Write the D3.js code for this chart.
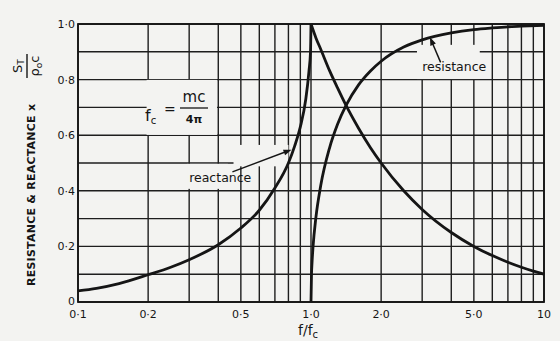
<!DOCTYPE html>
<html>
<head>
<meta charset="utf-8">
<script src="https://cdn.jsdelivr.net/npm/d3@7"></script>
<style>
  html, body { margin: 0; padding: 0; background: #f3f3f1; }
  svg { display: block; }
  text { font-family: "DejaVu Sans", sans-serif; fill: #151515; }
</style>
</head>
<body>
<svg id="chart" width="560" height="341"></svg>
<script>
// Frequency ratio f/fc and normalised impedance (× S_T / ρ0 c)
const reactanceBelowFreq = [0.1, 0.12, 0.15, 0.2, 0.25, 0.3, 0.4, 0.5, 0.6, 0.7, 0.8, 0.85, 0.9, 0.95, 0.98, 0.995, 1.0];
const reactanceBelowVal  = [0.04, 0.049, 0.066, 0.098, 0.125, 0.152, 0.206, 0.266, 0.33, 0.41, 0.5, 0.56, 0.63, 0.73, 0.83, 0.9, 1.0];

const reactanceAboveFreq = [1.0, 1.05, 1.1, 1.2, 1.3, 1.414, 1.6, 1.8, 2, 2.5, 3, 4, 5, 6, 7, 8, 9, 10];
const reactanceAboveVal  = [1.0, 0.95, 0.91, 0.833, 0.77, 0.707, 0.625, 0.555, 0.5, 0.4, 0.333, 0.25, 0.2, 0.167, 0.143, 0.125, 0.111, 0.1];

const resistanceFreq = [1.0, 1.005, 1.01, 1.02, 1.05, 1.1, 1.2, 1.3, 1.414, 1.6, 1.8, 2, 2.5, 3, 4, 5, 6, 7, 8, 10];
const resistanceVal  = [0, 0.1, 0.14, 0.197, 0.305, 0.417, 0.553, 0.639, 0.707, 0.781, 0.831, 0.866, 0.917, 0.943, 0.968, 0.98, 0.986, 0.99, 0.992, 0.995];

// Grid and tick labels
const xGridValues = [0.1, 0.2, 0.3, 0.4, 0.5, 0.6, 0.7, 0.8, 0.9, 1, 2, 3, 4, 5, 6, 7, 8, 9, 10];
const yGridValues = [0, 0.1, 0.2, 0.3, 0.4, 0.5, 0.6, 0.7, 0.8, 0.9, 1.0];
const xTickValues = [0.1, 0.2, 0.5, 1, 2, 5, 10];
const xTickLabels = ["0·1", "0·2", "0·5", "1·0", "2·0", "5·0", "10"];
const yTickValues = [0, 0.2, 0.4, 0.6, 0.8, 1.0];
const yTickLabels = ["0", "0·2", "0·4", "0·6", "0·8", "1·0"];

const svg = d3.select("#chart");
const bg = "#f3f3f1";
const ink = "#151515";

const x = d3.scaleLog().domain([0.1, 10]).range([78, 544]);
const y = d3.scaleLinear().domain([0, 1]).range([302, 24]);

// grid
const grid = svg.append("g").attr("stroke", "#1e1e1e").attr("stroke-width", 1.4);
grid.selectAll("line.v").data(xGridValues).join("line")
  .attr("x1", d => x(d)).attr("x2", d => x(d))
  .attr("y1", y(0)).attr("y2", y(1));
grid.selectAll("line.h").data(yGridValues).join("line")
  .attr("x1", x(0.1)).attr("x2", x(10))
  .attr("y1", d => y(d)).attr("y2", d => y(d));

// blank panels that interrupt the grid behind annotations
const panels = [
  [x(0.197), y(0.799), x(0.395), y(0.601)],   // formula
  [x(0.465), y(0.565), x(0.8), y(0.488)],     // reactance arrow
  [x(0.295), y(0.497), x(0.44), y(0.407)],    // reactance label
  [x(2.85), y(0.925), x(5.3), y(0.802)]       // resistance label
];
svg.append("g").selectAll("rect").data(panels).join("rect")
  .attr("x", d => d[0]).attr("y", d => d[1])
  .attr("width", d => d[2] - d[0]).attr("height", d => d[3] - d[1])
  .attr("fill", bg);

// frame
svg.append("rect")
  .attr("x", x(0.1)).attr("y", y(1))
  .attr("width", x(10) - x(0.1)).attr("height", y(0) - y(1))
  .attr("fill", "none").attr("stroke", ink).attr("stroke-width", 1.8);

// curves
const line = d3.line().x(d => x(d[0])).y(d => y(d[1])).curve(d3.curveMonotoneX);
const series = [
  d3.zip(reactanceBelowFreq, reactanceBelowVal),
  d3.zip(reactanceAboveFreq, reactanceAboveVal),
  d3.zip(resistanceFreq, resistanceVal)
];
svg.append("g").selectAll("path").data(series).join("path")
  .attr("d", line)
  .attr("fill", "none").attr("stroke", ink).attr("stroke-width", 2.8)
  .attr("stroke-linejoin", "round");

// y tick labels
svg.append("g").selectAll("text").data(yTickValues).join("text")
  .attr("x", 75).attr("y", d => y(d) + (d === 0 ? 2.5 : 4))
  .attr("text-anchor", "end").attr("font-size", 11)
  .text((d, i) => yTickLabels[i]);

// x tick labels
svg.append("g").selectAll("text").data(xTickValues).join("text")
  .attr("x", d => x(d)).attr("y", 318)
  .attr("text-anchor", "middle").attr("font-size", 11)
  .text((d, i) => xTickLabels[i]);

// x axis title f/fc
const xt = svg.append("text").attr("x", 298).attr("y", 335).attr("font-size", 14);
xt.append("tspan").text("f/f");
xt.append("tspan").attr("font-size", 10).attr("dy", 3).text("c");

// y axis title
const yt = svg.append("g").attr("transform", "translate(35,286) rotate(-90)");
yt.append("text").attr("x", 0).attr("y", 0)
  .attr("font-size", 11).attr("font-weight", "bold")
  .attr("textLength", 182).attr("lengthAdjust", "spacing")
  .text("RESISTANCE & REACTANCE x");
const fx = 220;
yt.append("text").attr("x", fx).attr("y", -13).attr("text-anchor", "middle")
  .attr("font-size", 13)
  .call(t => { t.append("tspan").text("S"); t.append("tspan").attr("font-size", 9).attr("dy", 2).text("T"); });
yt.append("line").attr("x1", fx - 12).attr("x2", fx + 12).attr("y1", -8).attr("y2", -8)
  .attr("stroke", ink).attr("stroke-width", 1.4);
yt.append("text").attr("x", fx).attr("y", 4).attr("text-anchor", "middle")
  .attr("font-size", 13)
  .call(t => {
    t.append("tspan").text("ρ");
    t.append("tspan").attr("font-size", 9).attr("dy", 3).text("o");
    t.append("tspan").attr("dy", -3).text("c");
  });

// cutoff formula fc = mc / 4π
const fm = svg.append("g");
fm.append("text").attr("x", 145).attr("y", 121).attr("font-size", 16)
  .call(t => { t.append("tspan").text("f"); t.append("tspan").attr("font-size", 10).attr("dy", 3).text("c"); });
fm.append("text").attr("x", 164).attr("y", 114).attr("font-size", 14).text("=");
fm.append("text").attr("x", 194).attr("y", 102).attr("text-anchor", "middle").attr("font-size", 15).text("mc");
fm.append("line").attr("x1", 180).attr("x2", 208).attr("y1", 108).attr("y2", 108)
  .attr("stroke", ink).attr("stroke-width", 1.3);
fm.append("text").attr("x", 194).attr("y", 123).attr("text-anchor", "middle")
  .attr("font-size", 11).attr("font-weight", "bold").text("4π");

// annotations with arrows
function arrow(x0, y0, x1, y1) {
  const a = Math.atan2(y1 - y0, x1 - x0);
  const len = 8, w = 3;
  svg.append("line").attr("x1", x0).attr("y1", y0)
    .attr("x2", x1 - Math.cos(a) * 4).attr("y2", y1 - Math.sin(a) * 4)
    .attr("stroke", ink).attr("stroke-width", 1.5);
  const bx = x1 - Math.cos(a) * len, by = y1 - Math.sin(a) * len;
  svg.append("path")
    .attr("d", `M${x1},${y1}L${bx - Math.sin(a) * w},${by + Math.cos(a) * w}L${bx + Math.sin(a) * w},${by - Math.cos(a) * w}Z`)
    .attr("fill", ink);
}

svg.append("text").attr("x", x(0.3)).attr("y", 182).attr("font-size", 12.5).text("reactance");
arrow(x(0.46), y(0.468), x(0.825), y(0.548));

svg.append("text").attr("x", x(3.0)).attr("y", 71).attr("font-size", 12.5).text("resistance");
arrow(x(3.6), y(0.862), x(3.24), y(0.952));
</script>
</body>
</html>
